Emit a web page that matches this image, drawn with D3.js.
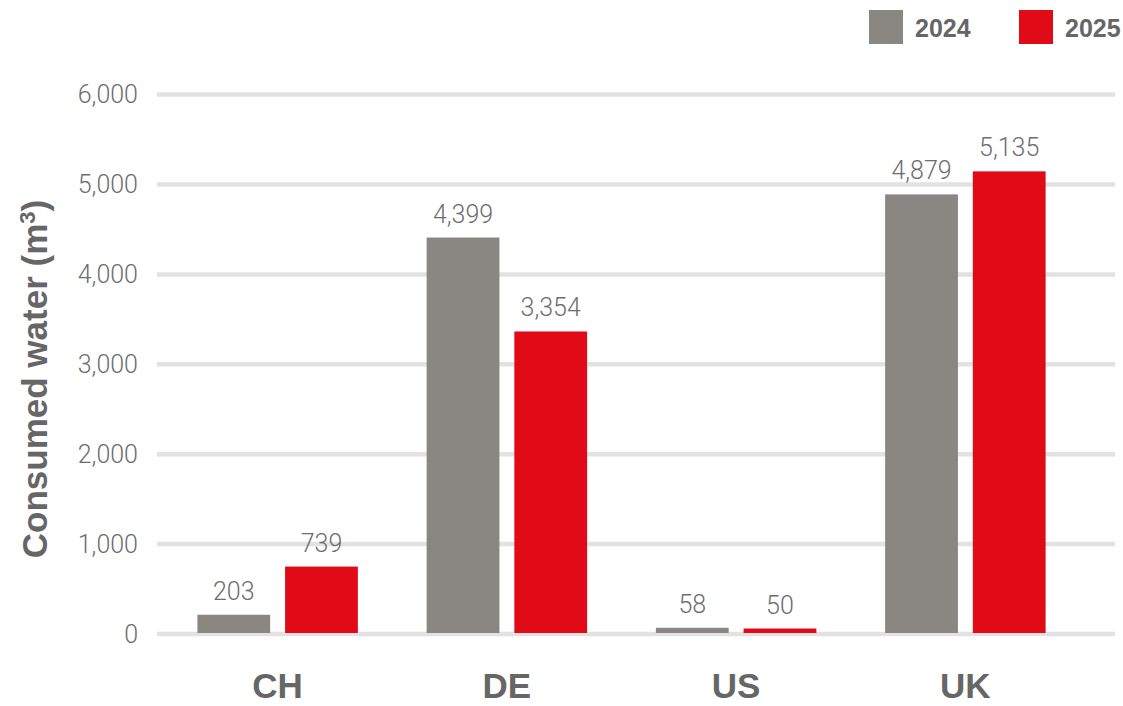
<!DOCTYPE html>
<html>
<head>
<meta charset="utf-8">
<script src="https://cdn.jsdelivr.net/npm/d3@7"></script>
<style>
  html, body { margin: 0; padding: 0; background: #fff; }
  svg { display: block; font-family: "Liberation Sans", Arial, sans-serif; }
  .tick-label, .value-label { font-family: Roboto, "Liberation Sans", sans-serif; font-weight: 300; fill: #6e6e6e; font-size: 25px; }
  .cat-label { font-weight: bold; fill: #666; font-size: 35px; }
  .axis-title { font-weight: bold; fill: #666; font-size: 35px; }
  .legend-label { font-weight: bold; fill: #666; font-size: 25px; }
</style>
</head>
<body>
<svg id="chart"></svg>
<script>
const countries = ["CH", "DE", "US", "UK"];
const years = ["2024", "2025"];
const values2024 = [203, 4399, 58, 4879];
const values2025 = [739, 3354, 50, 5135];
const yTicks = [0, 1000, 2000, 3000, 4000, 5000, 6000];

const colors = { "2024": "#8a8682", "2025": "#e00b16" };
const width = 1123;
const height = 706;

const svg = d3.select("#chart").attr("width", width).attr("height", height);

const rows = countries.map((c, i) => ({
  country: c,
  values: [
    { year: "2024", value: values2024[i] },
    { year: "2025", value: values2025[i] },
  ],
}));

const y = d3.scaleLinear().domain([0, 6000]).range([633, 93.6]);

const x0 = d3.scaleBand()
  .domain(countries)
  .range([163, 1080])
  .paddingInner(0.3)
  .paddingOuter(0.15);

const x1 = d3.scaleBand()
  .domain(years)
  .range([0, x0.bandwidth()])
  .paddingInner(0.17);

const fmt = d3.format(",");

// gridlines
const grid = svg.append("g").attr("class", "grid");
grid.selectAll("line")
  .data(yTicks)
  .join("line")
  .attr("x1", 157)
  .attr("x2", 1115)
  .attr("y1", (d) => y(d) + 1)
  .attr("y2", (d) => y(d) + 1)
  .attr("stroke", "#e2e2e2")
  .attr("stroke-width", 4.5);

// y tick labels
svg.append("g").selectAll("text")
  .data(yTicks)
  .join("text")
  .attr("class", "tick-label")
  .attr("x", 138)
  .attr("y", (d) => y(d) + 1)
  .attr("dy", "0.35em")
  .attr("text-anchor", "end")
  .text((d) => fmt(d));

// axis title
const title = svg.append("text")
  .attr("class", "axis-title")
  .attr("transform", `translate(47,379) rotate(-90)`)
  .attr("text-anchor", "middle");
title.append("tspan").text("Consumed water (m");
title.append("tspan")
  .attr("baseline-shift", "super")
  .attr("font-size", "22px")
  .text("3");
title.append("tspan").text(")");

// bars
const groups = svg.append("g").selectAll("g")
  .data(rows)
  .join("g")
  .attr("transform", (d) => `translate(${x0(d.country)},0)`);

groups.selectAll("rect")
  .data((d) => d.values)
  .join("rect")
  .attr("x", (d) => x1(d.year))
  .attr("y", (d) => y(d.value))
  .attr("width", x1.bandwidth())
  .attr("height", (d) => y(0) - y(d.value))
  .attr("fill", (d) => colors[d.year]);

groups.selectAll("text.value-label")
  .data((d) => d.values)
  .join("text")
  .attr("class", "value-label")
  .attr("x", (d) => x1(d.year) + x1.bandwidth() / 2)
  .attr("y", (d) => y(d.value) - 15)
  .attr("text-anchor", "middle")
  .text((d) => fmt(d.value));

// category labels
svg.append("g").selectAll("text")
  .data(countries)
  .join("text")
  .attr("class", "cat-label")
  .attr("x", (d) => x0(d) + x0.bandwidth() / 2)
  .attr("y", 698)
  .attr("text-anchor", "middle")
  .text((d) => d);

// legend
const legendX = { "2024": 869, "2025": 1019 };
const legend = svg.append("g").selectAll("g")
  .data(years)
  .join("g")
  .attr("transform", (d) => `translate(${legendX[d]},10)`);

legend.append("rect")
  .attr("width", 34)
  .attr("height", 34)
  .attr("fill", (d) => colors[d]);

legend.append("text")
  .attr("class", "legend-label")
  .attr("x", 46)
  .attr("y", 18)
  .attr("dy", "0.36em")
  .text((d) => d);
</script>
</body>
</html>
